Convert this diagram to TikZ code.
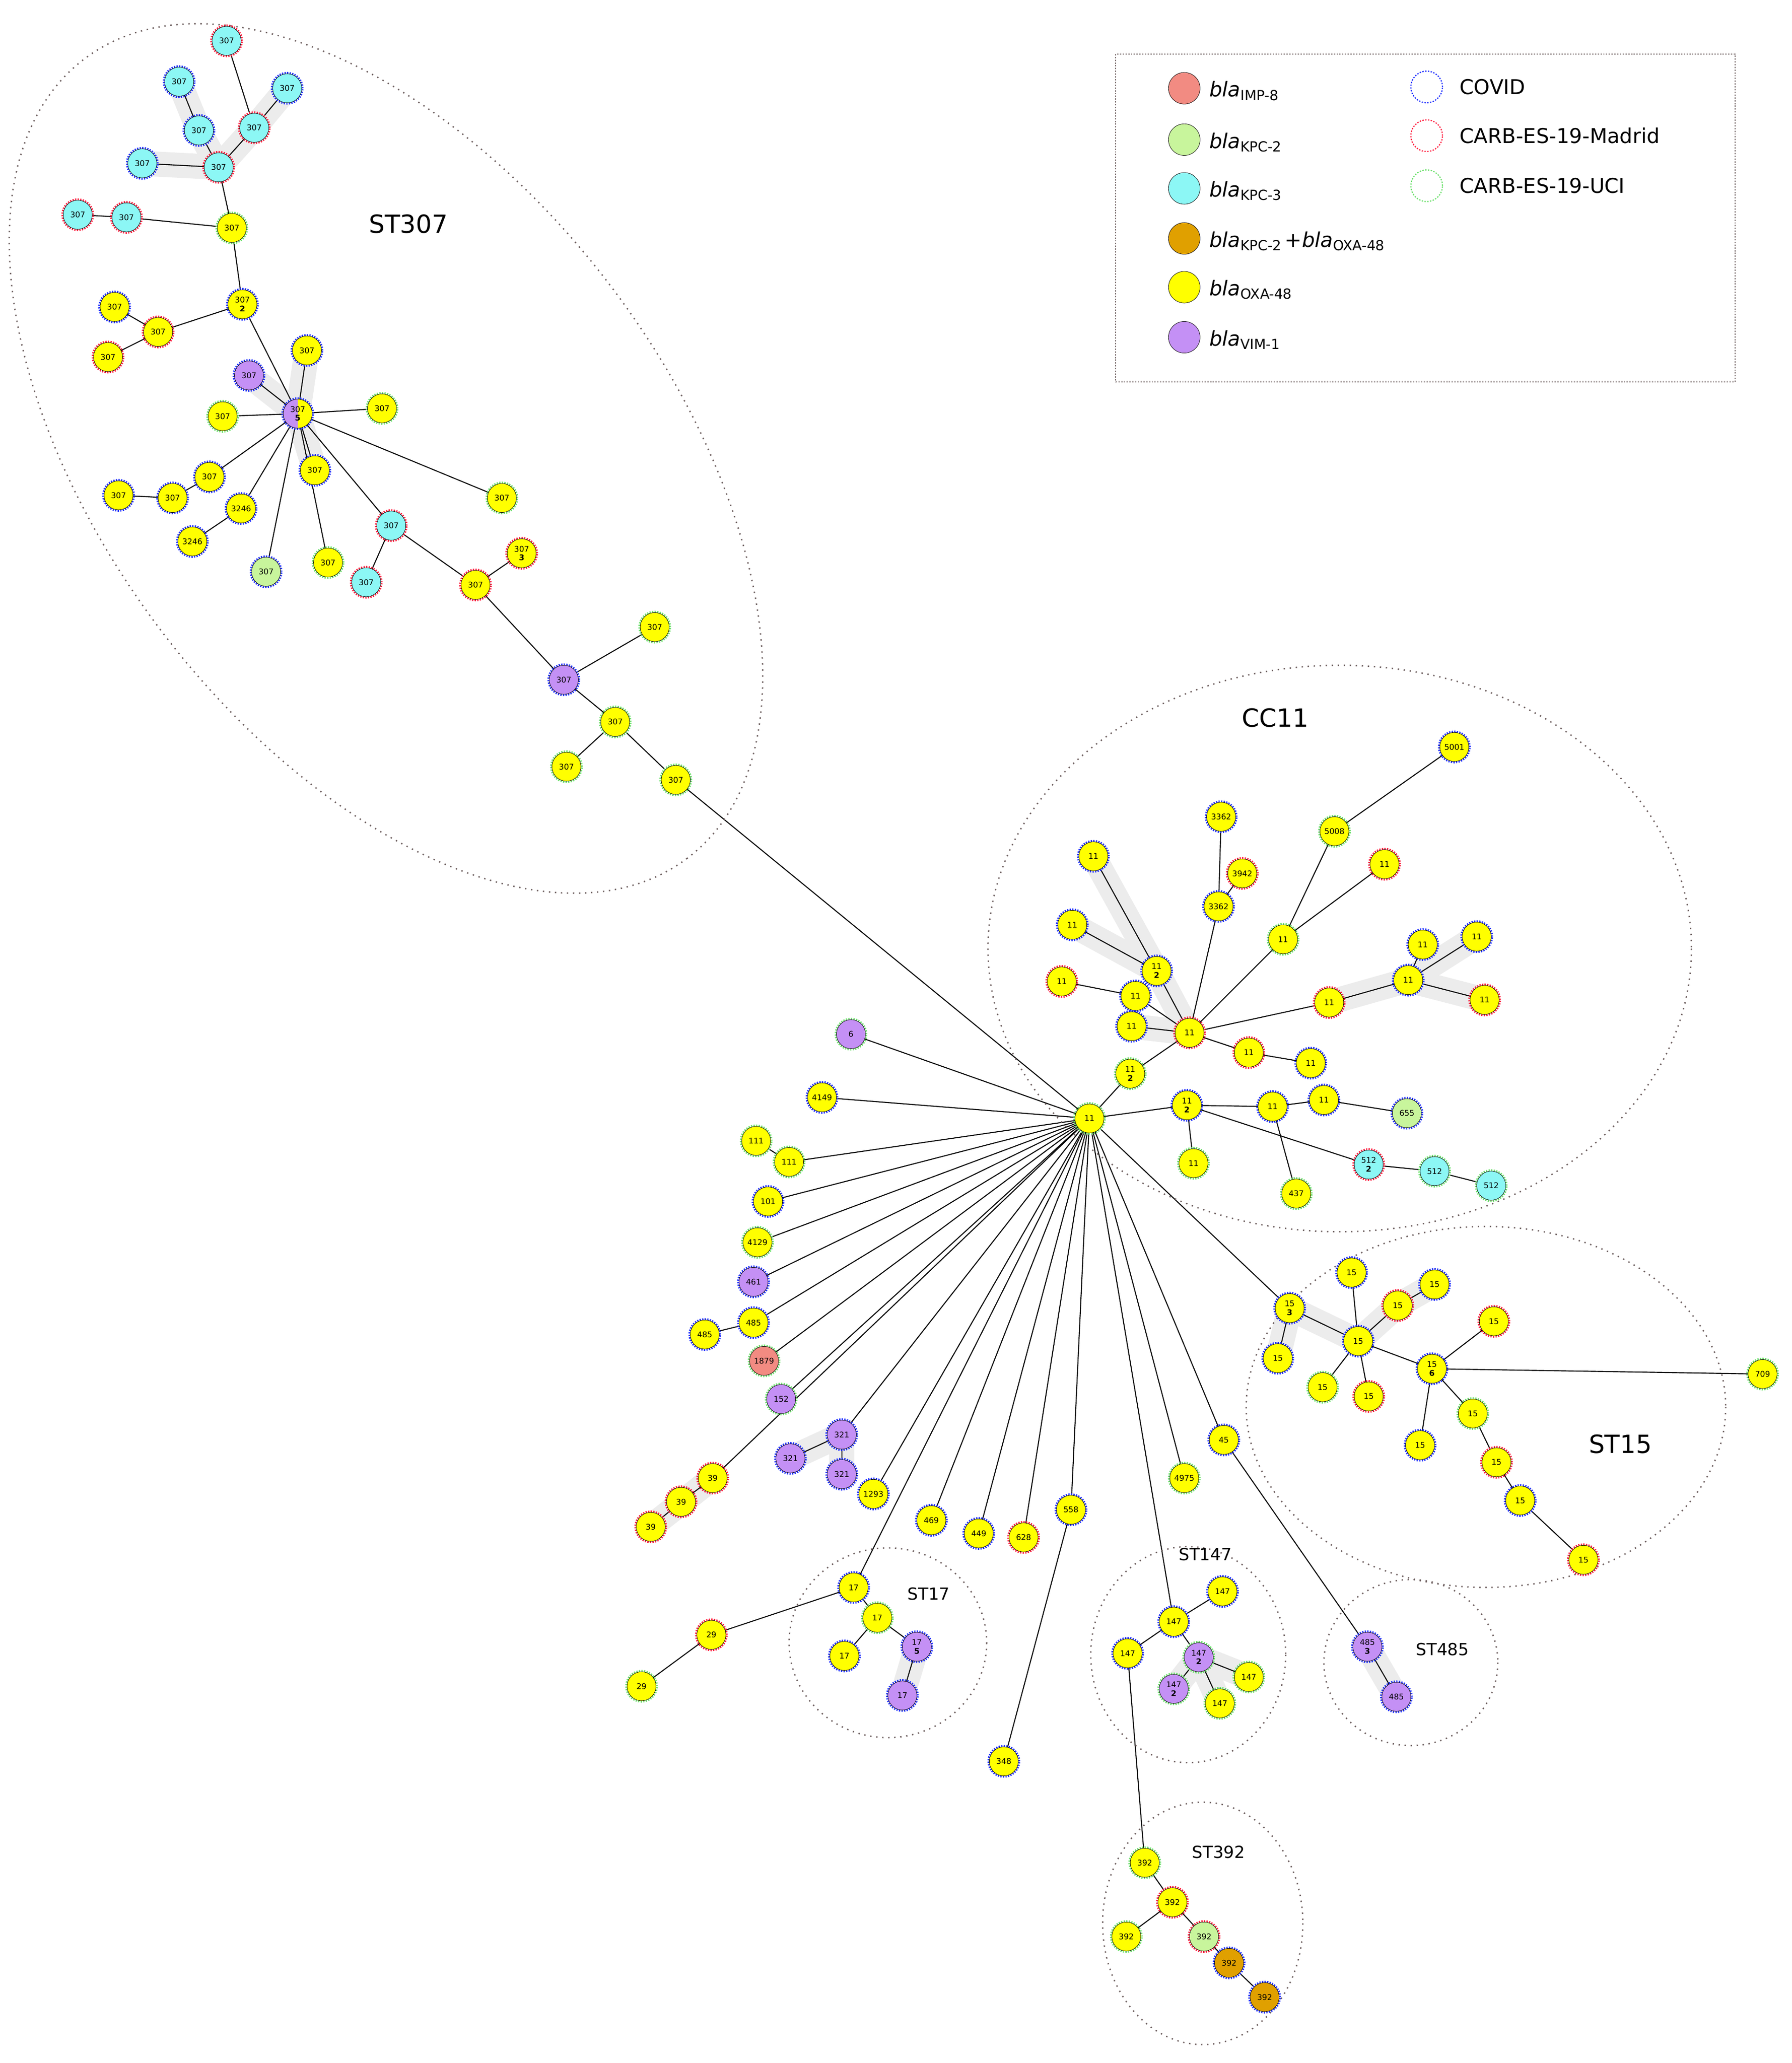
\documentclass[tikz,border=0pt]{standalone}
\usepackage{fontspec}
\setmainfont{DejaVu Sans}
\usetikzlibrary{backgrounds}
\definecolor{Y}{HTML}{FFFF00}
\definecolor{C}{HTML}{8CF7F5}
\definecolor{P}{HTML}{C490F5}
\definecolor{S}{HTML}{F28B82}
\definecolor{G}{HTML}{C8F59C}
\definecolor{O}{HTML}{E0A000}
\definecolor{rb}{HTML}{2030FF}
\definecolor{rr}{HTML}{FF2040}
\definecolor{rg}{HTML}{6CE06C}
\definecolor{frame}{HTML}{6E6060}
\tikzset{
 nd/.style={circle,minimum size=2.2cm,inner sep=0pt,draw=black,line width=0.8pt,align=center,font=\fontsize{17}{19}\selectfont},
 ring/.style={preaction={draw=#1,line width=8pt,dash pattern=on 2.6pt off 2.6pt}},
 ed/.style={line width=2.2pt,black},
 hl/.style={line width=1.9cm,gray!15,line cap=round,line join=round},
 grp/.style={draw=frame,line width=3pt,dash pattern=on 3pt off 10pt},
 glab/.style={font=\fontsize{36}{36}\selectfont},
 Glab/.style={font=\fontsize{54}{54}\selectfont},
 lg/.style={font=\fontsize{44}{44}\selectfont,anchor=west,inner sep=0pt},
 lring/.style={circle,minimum size=2.4cm,draw=#1,line width=2.5pt,dash pattern=on 3pt off 3pt},
}
\newcommand\N[6]{\node[nd,fill=#4,ring=#5] (#1) at (#2,#3) {#6};}
\newcommand\B[1]{\textit{bla}\raisebox{-0.3ex}{\fontsize{30}{30}\selectfont #1}}
\begin{document}
\begin{tikzpicture}[x=0.1cm,y=-0.1cm]
\useasboundingbox (0,0) rectangle (1360,1566);
% groups
\draw[grp,rotate around={-53:(293,348)}] (293,348) ellipse [x radius=380,y radius=215];
\draw[grp] (1017,720) ellipse [x radius=267,y radius=215];
\draw[grp] (1128,1068) ellipse [x radius=182,y radius=137];
\draw[grp] (674,1247) ellipse [x radius=75,y radius=72];
\draw[grp] (902,1256) ellipse [x radius=74,y radius=82];
\draw[grp] (1071,1262) ellipse [x radius=66,y radius=63];
\draw[grp] (913,1460) ellipse [x radius=76,y radius=92];
\node[Glab] (l307) at (310,170) {ST307};
\node[Glab] (lcc) at (968,545) {CC11};
\node[Glab] (l15) at (1230,1096) {ST15};
\node[glab] (l17) at (705,1210) {ST17};
\node[glab] (l147) at (915,1180) {ST147};
\node[glab] (l485) at (1095,1252) {ST485};
\node[glab] (l392) at (925,1406) {ST392};
% legend
\draw[grp,line width=2pt,dash pattern=on 3pt off 3pt] (847,41) rectangle (1317,290);
\node[nd,fill=S,minimum size=2.4cm] (k1) at (899,67) {};
\node[nd,fill=G,minimum size=2.4cm] (k2) at (899,106) {};
\node[nd,fill=C,minimum size=2.4cm] (k3) at (899,143) {};
\node[nd,fill=O,minimum size=2.4cm] (k4) at (899,181) {};
\node[nd,fill=Y,minimum size=2.4cm] (k5) at (899,218) {};
\node[nd,fill=P,minimum size=2.4cm] (k6) at (899,256) {};
\node[lg] (t1) at (918,69) {\B{IMP-8}};
\node[lg] (t2) at (918,108) {\B{KPC-2}};
\node[lg] (t3) at (918,145) {\B{KPC-3}};
\node[lg] (t4) at (918,183) {\B{KPC-2}\,+\B{OXA-48}};
\node[lg] (t5) at (918,220) {\B{OXA-48}};
\node[lg] (t6) at (918,258) {\B{VIM-1}};
\node[lring=rb] (k7) at (1083,66) {};
\node[lring=rr] (k8) at (1083,103) {};
\node[lring=rg] (k9) at (1083,141) {};
\node[lg] (t7) at (1108,66) {COVID};
\node[lg] (t8) at (1108,103) {CARB-ES-19-Madrid};
\node[lg] (t9) at (1108,141) {CARB-ES-19-UCI};
% hub
\N{h}{827}{849}{Y}{rg}{11}
% ST307
\N{a1}{172}{31}{C}{rr}{307}
\N{a2}{136}{62}{C}{rb}{307}
\N{a3}{218}{67}{C}{rb}{307}
\N{a4}{151}{99}{C}{rb}{307}
\N{a5}{193}{97}{C}{rr}{307}
\N{a6}{108}{124}{C}{rb}{307}
\N{a7}{166}{127}{C}{rr}{307}
\N{a8}{59}{163}{C}{rr}{307}
\N{a9}{96}{165}{C}{rr}{307}
\N{a10}{176}{173}{Y}{rg}{307}
\N{a11}{184}{231}{Y}{rb}{307\\\textbf{2}}
\N{a12}{87}{233}{Y}{rb}{307}
\N{a13}{120}{252}{Y}{rr}{307}
\N{a14}{82}{271}{Y}{rr}{307}
\N{a15}{233}{266}{Y}{rb}{307}
\N{a16}{189}{285}{P}{rb}{307}
\node[nd,ring=rb,fill=Y,path picture={\fill[P] (path picture bounding box.south west) rectangle (path picture bounding box.north);}] (a17) at (226,314) {307\\\textbf{5}};
\N{a18}{169}{316}{Y}{rg}{307}
\N{a19}{290}{310}{Y}{rg}{307}
\N{a20}{239}{357}{Y}{rb}{307}
\N{a21}{159}{362}{Y}{rb}{307}
\N{a22}{131}{378}{Y}{rb}{307}
\N{a23}{90}{376}{Y}{rb}{307}
\N{a24}{183}{386}{Y}{rb}{3246}
\N{a25}{146}{411}{Y}{rb}{3246}
\N{a26}{381}{378}{Y}{rg}{307}
\N{a27}{297}{399}{C}{rr}{307}
\N{a28}{278}{442}{C}{rr}{307}
\N{a29}{202}{434}{G}{rb}{307}
\N{a30}{249}{427}{Y}{rg}{307}
\N{a31}{396}{420}{Y}{rr}{307\\\textbf{3}}
\N{a32}{361}{444}{Y}{rr}{307}
\N{a33}{428}{516}{P}{rb}{307}
\N{a34}{497}{476}{Y}{rg}{307}
\N{a35}{467}{548}{Y}{rg}{307}
\N{a36}{430}{582}{Y}{rg}{307}
\N{a37}{513}{592}{Y}{rg}{307}
% CC11
\N{c1}{1104}{567}{Y}{rb}{5001}
\N{c2}{1013}{631}{Y}{rg}{5008}
\N{c3}{927}{620}{Y}{rb}{3362}
\N{c4}{943}{663}{Y}{rr}{3942}
\N{c5}{925}{688}{Y}{rb}{3362}
\N{c6}{1051}{656}{Y}{rr}{11}
\N{c7}{830}{650}{Y}{rb}{11}
\N{c8}{814}{702}{Y}{rb}{11}
\N{c9}{974}{713}{Y}{rg}{11}
\N{c10}{1080}{717}{Y}{rb}{11}
\N{c11}{1121}{711}{Y}{rb}{11}
\N{c12}{878}{737}{Y}{rb}{11\\\textbf{2}}
\N{c13}{806}{745}{Y}{rr}{11}
\N{c14}{862}{756}{Y}{rb}{11}
\N{c15}{1069}{744}{Y}{rb}{11}
\N{c16}{1009}{761}{Y}{rr}{11}
\N{c17}{1127}{759}{Y}{rr}{11}
\N{c18}{859}{779}{Y}{rb}{11}
\N{c19}{903}{784}{Y}{rr}{11}
\N{c20}{948}{799}{Y}{rr}{11}
\N{c21}{995}{807}{Y}{rb}{11}
\N{c22}{858}{815}{Y}{rg}{11\\\textbf{2}}
\N{c23}{901}{839}{Y}{rb}{11\\\textbf{2}}
\N{c24}{966}{840}{Y}{rb}{11}
\N{c25}{1005}{835}{Y}{rb}{11}
\N{c26}{1068}{845}{G}{rb}{655}
\N{c27}{906}{883}{Y}{rg}{11}
\N{c28}{1039}{884}{C}{rr}{512\\\textbf{2}}
\N{c29}{1089}{889}{C}{rg}{512}
\N{c30}{1132}{900}{C}{rg}{512}
\N{c31}{984}{906}{Y}{rg}{437}
% ST15
\N{s1}{979}{993}{Y}{rb}{15\\\textbf{3}}
\N{s2}{1026}{966}{Y}{rb}{15}
\N{s3}{1089}{975}{Y}{rb}{15}
\N{s4}{1061}{991}{Y}{rr}{15}
\N{s5}{1134}{1003}{Y}{rr}{15}
\N{s6}{970}{1031}{Y}{rb}{15}
\N{s7}{1031}{1018}{Y}{rb}{15}
\N{s8}{1087}{1039}{Y}{rb}{15\\\textbf{6}}
\N{s9}{1338}{1043}{Y}{rg}{709}
\N{s10}{1004}{1053}{Y}{rg}{15}
\N{s11}{1039}{1060}{Y}{rr}{15}
\N{s12}{1118}{1073}{Y}{rg}{15}
\N{s13}{1078}{1097}{Y}{rb}{15}
\N{s14}{1136}{1110}{Y}{rr}{15}
\N{s15}{1154}{1139}{Y}{rb}{15}
\N{s16}{1202}{1184}{Y}{rr}{15}
% others
\N{o1}{646}{785}{P}{rg}{6}
\N{o2}{624}{833}{Y}{rb}{4149}
\N{o3}{574}{866}{Y}{rg}{111}
\N{o4}{599}{882}{Y}{rg}{111}
\N{o5}{583}{912}{Y}{rb}{101}
\N{o6}{575}{943}{Y}{rg}{4129}
\N{o7}{572}{973}{P}{rb}{461}
\N{o8}{572}{1004}{Y}{rb}{485}
\N{o9}{535}{1013}{Y}{rb}{485}
\N{o10}{580}{1033}{S}{rg}{1879}
\N{o11}{593}{1062}{P}{rg}{152}
\N{o12}{541}{1122}{Y}{rr}{39}
\N{o13}{517}{1140}{Y}{rr}{39}
\N{o14}{494}{1159}{Y}{rr}{39}
\N{o15}{639}{1089}{P}{rb}{321}
\N{o16}{600}{1107}{P}{rb}{321}
\N{o17}{639}{1119}{P}{rb}{321}
\N{o18}{663}{1134}{Y}{rb}{1293}
\N{o19}{707}{1154}{Y}{rb}{469}
\N{o20}{743}{1164}{Y}{rb}{449}
\N{o21}{777}{1167}{Y}{rr}{628}
\N{o22}{813}{1146}{Y}{rb}{558}
\N{o23}{762}{1337}{Y}{rb}{348}
\N{o24}{899}{1122}{Y}{rg}{4975}
\N{o25}{929}{1093}{Y}{rb}{45}
% ST17
\N{t1}{648}{1205}{Y}{rb}{17}
\N{t2}{666}{1228}{Y}{rg}{17}
\N{t3}{641}{1257}{Y}{rb}{17}
\N{t4}{696}{1250}{P}{rb}{17\\\textbf{5}}
\N{t5}{685}{1287}{P}{rb}{17}
\N{t6}{540}{1241}{Y}{rr}{29}
\N{t7}{487}{1280}{Y}{rg}{29}
% ST147
\N{p1}{891}{1231}{Y}{rb}{147}
\N{p2}{928}{1208}{Y}{rb}{147}
\N{p3}{856}{1255}{Y}{rb}{147}
\N{p4}{910}{1258}{P}{rg}{147\\\textbf{2}}
\N{p5}{891}{1282}{P}{rg}{147\\\textbf{2}}
\N{p6}{948}{1273}{Y}{rg}{147}
\N{p7}{926}{1293}{Y}{rg}{147}
% ST392
\N{y1}{869}{1414}{Y}{rg}{392}
\N{y2}{890}{1444}{Y}{rr}{392}
\N{y3}{855}{1470}{Y}{rg}{392}
\N{y4}{914}{1470}{G}{rr}{392}
\N{y5}{933}{1490}{O}{rb}{392}
\N{y6}{960}{1516}{O}{rb}{392}
% ST485
\N{r1}{1038}{1250}{P}{rb}{485\\\textbf{3}}
\N{r2}{1060}{1288}{P}{rb}{485}
\begin{scope}[on background layer]
\draw[hl] (a2.center)--(a4.center)--(a7.center)--(a5.center)--(a3.center);
\draw[hl] (a6.center)--(a7.center);
\draw[hl] (a15.center)--(a17.center)--(a20.center);
\draw[hl] (a16.center)--(a17.center);
\draw[hl] (c7.center)--(c12.center)--(c19.center)--(c18.center);
\draw[hl] (c8.center)--(c12.center);
\draw[hl] (c16.center)--(c15.center)--(c11.center);
\draw[hl] (c15.center)--(c17.center);
\draw[hl] (s6.center)--(s1.center)--(s7.center)--(s4.center)--(s3.center);
\draw[hl] (o12.center)--(o14.center);
\draw[hl] (o16.center)--(o15.center)--(o17.center);
\draw[hl] (t4.center)--(t5.center);
\draw[hl] (p5.center)--(p4.center)--(p6.center);
\draw[hl] (p4.center)--(p7.center);
\draw[hl] (r1.center)--(r2.center);
\foreach \u/\v in {a1/a5,a2/a4,a3/a5,a4/a7,a5/a7,a6/a7,a7/a10,a8/a9,a9/a10,a10/a11,a11/a13,a12/a13,a13/a14,a11/a17,a15/a17,a16/a17,a18/a17,a19/a17,a20/a17,a21/a17,a22/a21,a23/a22,a24/a17,a25/a24,a29/a17,a30/a17,a27/a17,a26/a17,a28/a27,a27/a32,a31/a32,a32/a33,a33/a34,a33/a35,a35/a36,a35/a37,a37/h,
c1/c2,c2/c9,c6/c9,c9/c19,c3/c5,c4/c5,c5/c19,c7/c12,c8/c12,c12/c19,c13/c14,c14/c19,c18/c19,c19/c16,c16/c15,c15/c10,c15/c11,c15/c17,c19/c20,c20/c21,c19/c22,c22/h,h/c23,c23/c24,c24/c25,c25/c26,c23/c27,c23/c28,c24/c31,c28/c29,c29/c30,
h/s1,s1/s6,s1/s7,s2/s7,s7/s4,s4/s3,s7/s10,s7/s11,s7/s8,s8/s5,s8/s9,s8/s13,s8/s12,s12/s14,s14/s15,s15/s16,
h/o1,h/o2,o3/o4,h/o4,h/o5,h/o6,h/o7,h/o8,o9/o8,h/o10,h/o11,h/o12,o12/o13,o13/o14,h/o15,o15/o16,o15/o17,h/o18,h/o19,h/o20,h/o21,h/o22,o22/o23,h/o24,h/o25,
h/t1,t1/t2,t2/t3,t2/t4,t4/t5,t1/t6,t6/t7,
h/p1,p1/p2,p1/p3,p1/p4,p4/p5,p4/p6,p4/p7,p3/y1,y1/y2,y2/y3,y2/y4,y4/y5,y5/y6,
o25/r1,r1/r2}
  \draw[ed] (\u)--(\v);
\end{scope}
\end{tikzpicture}
\end{document}
